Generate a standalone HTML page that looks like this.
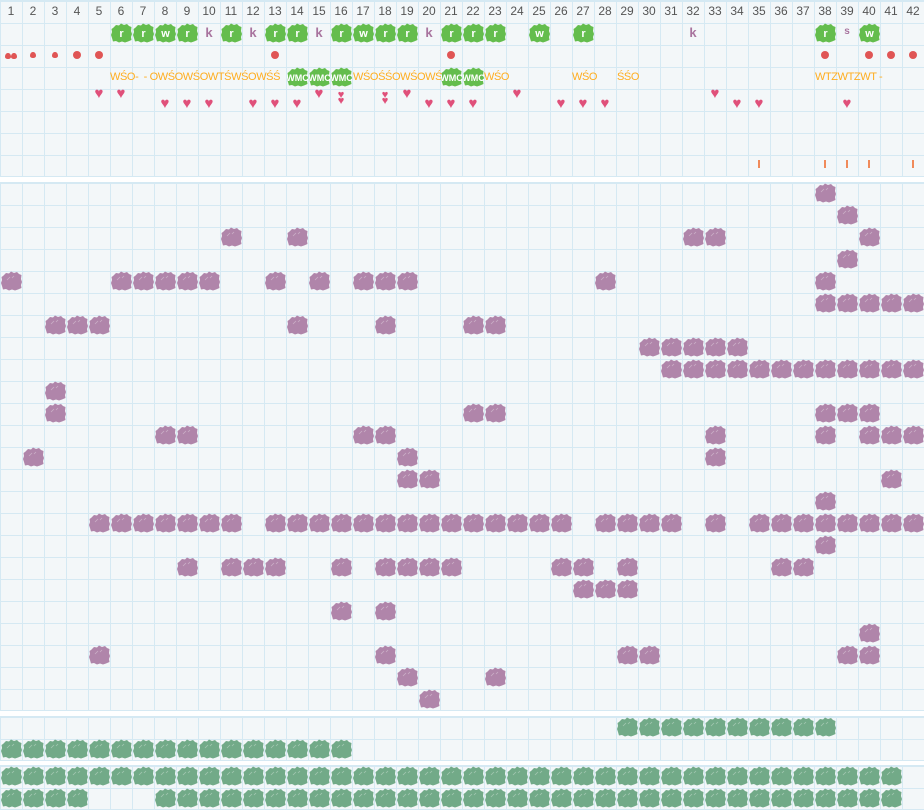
<!DOCTYPE html>
<html><head><meta charset="utf-8"><style>
body{margin:0;width:924px;height:811px;background:#fff;position:relative;overflow:hidden;font-family:"Liberation Sans",sans-serif}
.sec{position:absolute;left:0;width:924px;background-color:#f3f7f9;
background-image:linear-gradient(to right,#d5e9f3 1px,transparent 1px),linear-gradient(to bottom,#d5e9f3 1px,transparent 1px);
background-size:22px 22px;border-top:1px solid #d5e9f3;border-bottom:1px solid #d5e9f3;box-sizing:border-box}
.a{position:absolute}
.b{position:absolute;width:21px;height:20px}
.n{position:absolute;width:22px;text-align:center;font-size:12px;color:#555;top:4px}
.t{position:absolute;color:#ffad1f;font-size:11px;top:71px;white-space:nowrap;letter-spacing:-0.4px}
</style></head><body>
<div class="sec" style="top:0;height:177px"></div>
<div class="sec" style="top:182px;height:529px"></div>
<div class="sec" style="top:716px;height:45px"></div>
<div class="sec" style="top:765px;height:45px"></div>
<div id="c"></div>
<script>
var h='';
var P='M2 5 L5 2 L8 2.5 L10 0.5 L13 2 L16 1 L18 3 L20.5 4 L20 8 L21 11 L20 14 L20.5 17 L17 18.5 L14 19.5 L11 18.5 L8 19.5 L5 18 L2 18.5 L1 15 L0 12 L1 9 L0.5 6 Z';
function X(c){return (c-1)*22;}
for(var i=1;i<=42;i++)h+='<div class="n" style="left:'+X(i)+'px">'+i+'</div>';
function blob(c,y,col,txt,tc){h+='<svg class="b" viewBox="0 0 21 20" style="left:'+(X(c)+0.5)+'px;top:'+(y+1)+'px"><path d="'+P+'" fill="'+col+'"/>'+(txt?'<text x="10.5" y="14" text-anchor="middle" font-family="Liberation Sans" font-weight="bold" font-size="'+(tc||11)+'" fill="#fff">'+txt+'</text>':'<path d="M6 9 L9 6 M11 7 L13 5" stroke="rgba(255,255,255,0.35)" stroke-width="0.8"/>')+'</svg>';}
var A={6:'r',7:'r',8:'w',9:'r',10:'k',11:'r',12:'k',13:'r',14:'r',15:'k',16:'r',17:'w',18:'r',19:'r',20:'k',21:'r',22:'r',23:'r',25:'w',27:'r',32:'k',38:'r',39:'s',40:'w'};
for(var k in A){var v=A[k];if(v=='k'||v=='s')h+='<div class="a" style="left:'+X(k)+'px;width:22px;text-align:center;top:'+(v=='s'?26:25)+'px;font-size:'+(v=='s'?10:13)+'px;font-weight:bold;color:#a8739e">'+v+'</div>';else blob(+k,22,'#64bd4d',v);}
function dot(x,y,s,r){h+='<div class="a" style="left:'+(x-s/2)+'px;top:'+(y-s/2)+'px;width:'+s+'px;height:'+s+'px;border-radius:'+(r||'50%')+';background:#e05555"></div>';}
var dr='50% 50% 50% 50%/70% 70% 40% 40%';
dot(8,56,6,dr);dot(14,56,6,dr);dot(33,55,6,dr);dot(55,55,6,dr);
[4,5,13,21,38,40,41,42].forEach(function(c){dot(X(c)+11,55,8);});
h+='<div class="t" style="left:110px">WŚO-&nbsp; - OWŚOWŚOWTŚWŚOWŚŚ</div>';
h+='<div class="t" style="left:353px">WŚOŚŚOWŚOWŚŚ</div>';
h+='<div class="t" style="left:484px">WŚO</div><div class="t" style="left:572px">WŚO</div><div class="t" style="left:617px">ŚŚO</div><div class="t" style="left:815px">WTZWTZWT -</div>';
[14,15,16,21,22].forEach(function(c){blob(c,66,'#64bd4d','WMC',9);});
function heart(c,y,s){s=s||15;h+='<div class="a" style="left:'+X(c)+'px;width:22px;text-align:center;top:'+(y-s/2-1)+'px;font-size:'+s+'px;color:#e0507a;line-height:'+s+'px">♥</div>';}
[5,6,15,19,24,33].forEach(function(c){heart(c,94);});
[8,9,10,12,13,14,20,21,22,26,27,28,34,35,39].forEach(function(c){heart(c,104);});
[16,18].forEach(function(c){heart(c,96,11);heart(c,102,11);});
[35,38,39,40,42].forEach(function(c){h+='<div class="a" style="left:'+(X(c)+10)+'px;top:160px;width:2px;height:8px;background:#f08a5a"></div>';});
var R=[[38],[39],[11,14,32,33,40],[39],[1,6,7,8,9,10,13,15,17,18,19,28,38],[38,39,40,41,42],[3,4,5,14,18,22,23],[30,31,32,33,34],
[31,32,33,34,35,36,37,38,39,40,41,42],[3],[3,22,23,38,39,40],[8,9,17,18,33,38,40,41,42],[2,19,33],[19,20,41],[38],
[5,6,7,8,9,10,11,13,14,15,16,17,18,19,20,21,22,23,24,25,26,28,29,30,31,33,35,36,37,38,39,40,41,42],[38],
[9,11,12,13,16,18,19,20,21,26,27,29,36,37],[27,28,29],[16,18],[40],[5,18,29,30,39,40],[19,23],[20]];
R.forEach(function(r,i){r.forEach(function(c){blob(c,182+22*i,'#b085aa');});});
function range(a,b){var o=[];for(var i=a;i<=b;i++)o.push(i);return o;}
range(29,38).forEach(function(c){blob(c,716,'#72aa88');});
range(1,16).forEach(function(c){blob(c,738,'#72aa88');});
range(1,41).forEach(function(c){blob(c,765,'#72aa88');});
range(1,4).concat(range(8,41)).forEach(function(c){blob(c,787,'#72aa88');});
document.getElementById('c').innerHTML=h;
</script>
</body></html>
